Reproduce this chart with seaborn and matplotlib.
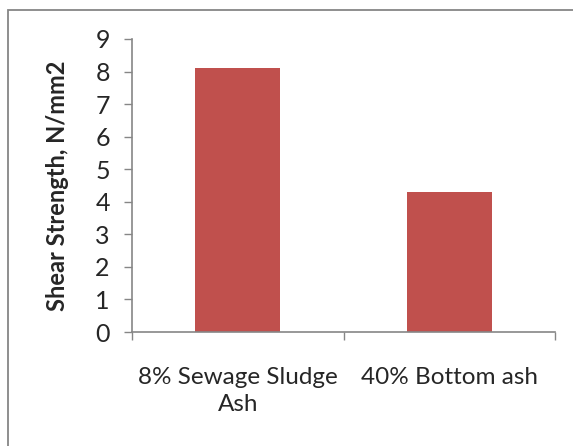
import matplotlib
matplotlib.use("Agg")
import matplotlib.pyplot as plt
from matplotlib.patches import Rectangle
import seaborn as sns
import pandas as pd

categories = ["8% Sewage Sludge\nAsh", "40% Bottom ash"]
shear_strength = [8.1, 4.3]
y_ticks = list(range(0, 10))

sns.set_theme(style="white")
plt.rcParams["font.family"] = ["Lato", "DejaVu Sans"]

W, H, DPI = 573, 446, 100
fig = plt.figure(figsize=(W / DPI, H / DPI), dpi=DPI)
ax = fig.add_axes([132 / W, 1 - 332 / H, (555 - 132) / W, (332 - 39) / H])

df = pd.DataFrame({"mix": categories, "strength": shear_strength})
sns.barplot(data=df, x="mix", y="strength", color="#C0504D", saturation=1,
            width=0.4, ax=ax, edgecolor="none")

axis_grey = "#868686"
fs = 18
ax.set_ylim(0, 9)
ax.set_xlim(-0.5, 1.5)
ax.set_yticks(y_ticks)
ax.tick_params(axis="y", direction="out", length=6, width=1, color=axis_grey,
               labelsize=fs, pad=10, left=True)
ax.set_xticks([0, 1])
ax.set_xticklabels(categories, fontsize=17.5, multialignment="center",
                   linespacing=1.35)
ax.tick_params(axis="x", length=0, pad=25)
ax.set_xticks([-0.5, 0.5, 1.5], minor=True)
ax.tick_params(axis="x", which="minor", direction="out", length=6, width=1,
               color=axis_grey, bottom=True)

for side in ("top", "right"):
    ax.spines[side].set_visible(False)
for side in ("left", "bottom"):
    ax.spines[side].set_color(axis_grey)
    ax.spines[side].set_linewidth(1.2)

ax.set_xlabel("")
ax.set_ylabel("Shear Strength, N/mm2", fontsize=17, fontweight="bold", labelpad=19)

# chart-area frame
fig.patches.append(Rectangle((8 / W, -0.1), 1.2, 1 - 10 / H + 0.1,
                             transform=fig.transFigure, fill=False,
                             edgecolor=axis_grey, linewidth=1.3))

fig.savefig("out.png", dpi=DPI)
